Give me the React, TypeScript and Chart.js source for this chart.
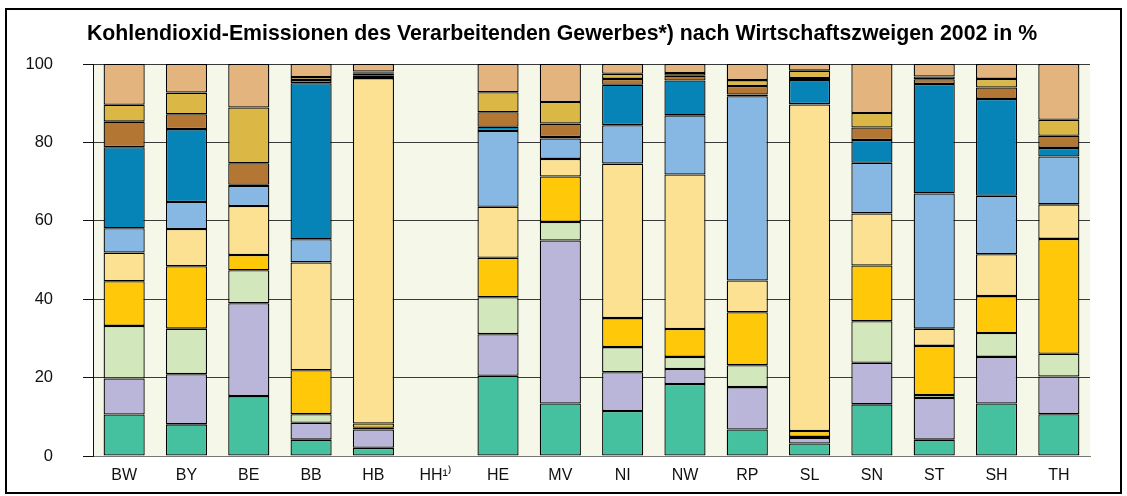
import React, { useEffect, useRef } from "react";
import { Chart, registerables } from "chart.js";

Chart.register(...registerables);

const TITLE = "Kohlendioxid-Emissionen des Verarbeitenden Gewerbes*) nach Wirtschaftszweigen 2002 in %";

const categories = ["BW", "BY", "BE", "BB", "HB", "HH¹⁾", "HE", "MV", "NI", "NW", "RP", "SL", "SN", "ST", "SH", "TH"];

const yTicks = [0, 20, 40, 60, 80, 100];

const seriesNames = [
  "Zweig 1", "Zweig 2", "Zweig 3", "Zweig 4", "Zweig 5",
  "Zweig 6", "Zweig 7", "Zweig 8", "Zweig 9", "Zweig 10",
];

const s1 = [10.6, 8.1, 15.3, 4.2, 2.1, null, 20.5, 13.4, 11.5, 18.4, 6.8, 3.2, 13.2, 4.2, 13.4, 10.7];
const s2 = [9.2, 12.8, 23.7, 4.3, 4.7, null, 10.6, 41.6, 9.9, 3.8, 10.8, 1.4, 10.6, 10.6, 11.9, 9.6];
const s3 = [13.4, 11.6, 8.4, 2.2, 0.4, null, 9.4, 4.7, 6.4, 3.1, 5.6, 0.3, 10.6, 0.8, 6.1, 5.8];
const s4 = [11.4, 15.9, 3.9, 11.2, 1.1, null, 10.1, 11.6, 7.4, 7.1, 13.5, 1.5, 14.2, 12.5, 9.4, 29.3];
const s5 = [7.3, 9.5, 12.5, 27.5, 88.1, null, 13.0, 4.5, 39.4, 39.4, 8.1, 83.3, 13.3, 4.4, 10.7, 8.8];
const s6 = [6.2, 6.9, 5.1, 5.9, 0.7, null, 19.3, 5.2, 9.8, 15.1, 47.0, 0.1, 12.9, 34.5, 14.9, 12.2];
const s7 = [20.7, 18.6, 0.3, 39.8, 0.4, null, 1.1, 0.4, 10.3, 8.9, 0.4, 6.1, 5.8, 27.9, 24.7, 2.2];
const s8 = [6.5, 3.8, 5.5, 0.8, 0.3, null, 3.7, 3.4, 1.5, 1.2, 2.2, 0.5, 3.2, 1.2, 2.9, 3.1];
const s9 = [4.3, 5.5, 14.2, 0.8, 0.3, null, 5.1, 5.5, 1.3, 0.7, 1.5, 1.9, 3.7, 0.7, 2.2, 4.1];
const s10 = [10.4, 7.3, 11.1, 3.3, 1.9, null, 7.2, 9.7, 2.5, 2.3, 4.1, 1.7, 12.5, 3.2, 3.8, 14.2];

const seriesValues = [s1, s2, s3, s4, s5, s6, s7, s8, s9, s10];

const colors = [
  "#46C1A0", "#B9B6D9", "#D3E7BD", "#FFC90A", "#FDE193",
  "#86B8E3", "#0684B7", "#B37733", "#DBB745", "#E3B47E",
];

const W = 1127;
const H = 496;

const decorPlugin = {
  id: "decor",
  beforeDraw(chart: any) {
    const { ctx, chartArea } = chart;
    ctx.save();
    ctx.fillStyle = "#ffffff";
    ctx.fillRect(0, 0, chart.width, chart.height);
    ctx.fillStyle = "#F5F8E8";
    ctx.fillRect(chartArea.left, chartArea.top, chartArea.right - chartArea.left, chartArea.bottom - chartArea.top);
    ctx.restore();
  },
  afterDraw(chart: any) {
    const { ctx } = chart;
    ctx.save();
    ctx.fillStyle = "#000000";
    ctx.font = "bold 21.3px 'Liberation Sans', Arial, sans-serif";
    ctx.textAlign = "center";
    ctx.textBaseline = "alphabetic";
    ctx.fillText(TITLE, 562, 39.5);
    ctx.strokeStyle = "#000000";
    ctx.lineWidth = 2;
    ctx.strokeRect(6, 9, chart.width - 12, chart.height - 12);
    ctx.restore();
  },
};

export default function App() {
  const ref = useRef<HTMLCanvasElement | null>(null);

  useEffect(() => {
    if (!ref.current) return;
    const padLeft = 10;
    const padRight = 37;
    const padTop = 64;
    const padBottom = 10;
    const chart = new Chart(ref.current, {
      type: "bar",
      data: {
        labels: categories,
        datasets: seriesValues.map((vals, i) => ({
          label: seriesNames[i],
          data: vals,
          backgroundColor: colors[i],
          borderColor: "#000000",
          borderWidth: 1.3,
          borderSkipped: false,
          categoryPercentage: 1,
          barPercentage: 0.66,
        })),
      },
      options: {
        responsive: false,
        animation: false,
        devicePixelRatio: 1,
        layout: { padding: { left: padLeft, right: padRight, top: padTop, bottom: padBottom } },
        plugins: {
          legend: { display: false },
          title: { display: false },
          tooltip: { enabled: false },
        },
        scales: {
          x: {
            stacked: true,
            grid: { display: false, drawTicks: false },
            border: { display: true, color: "#777777", width: 1 },
            ticks: {
              color: "#111111",
              padding: 10,
              font: { family: "'Liberation Sans', Arial, sans-serif", size: 16 },
              maxRotation: 0,
              autoSkip: false,
            },
            afterFit: (scale: any) => {
              scale.height = H - padBottom - 457;
            },
          },
          y: {
            stacked: true,
            min: 0,
            max: 100,
            afterBuildTicks: (scale: any) => {
              scale.ticks = yTicks.map((v) => ({ value: v }));
            },
            grid: {
              color: "#3a3a3a",
              lineWidth: 1,
              drawTicks: true,
              tickLength: 10,
              tickColor: "#111111",
            },
            border: { display: true, color: "#111111", width: 1 },
            ticks: {
              color: "#111111",
              padding: 30,
              font: { family: "'Liberation Sans', Arial, sans-serif", size: 16.5 },
            },
            afterFit: (scale: any) => {
              scale.width = 93 - padLeft;
            },
          },
        },
      },
      plugins: [decorPlugin],
    });
    return () => chart.destroy();
  }, []);

  return (
    <div style={{ position: "absolute", left: 0, top: 0, width: W, height: H }}>
      <canvas ref={ref} width={W} height={H} style={{ width: W, height: H, display: "block" }} />
    </div>
  );
}
